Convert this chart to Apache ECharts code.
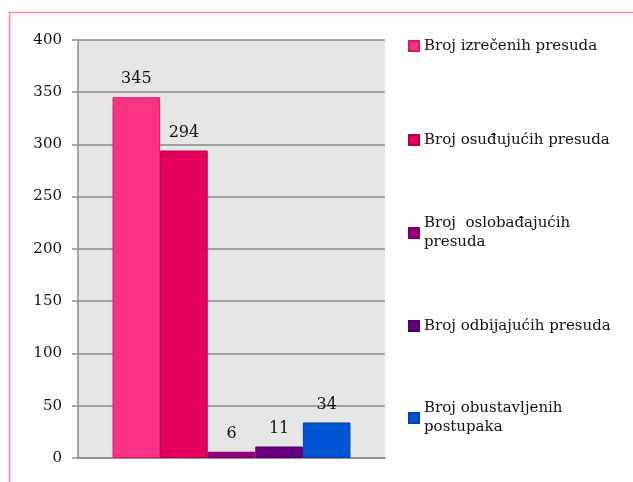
<!DOCTYPE html>
<html>
<head>
<meta charset="utf-8">
<script src="https://cdn.jsdelivr.net/npm/echarts@6/dist/echarts.min.js"></script>
<style>
html,body{margin:0;padding:0;background:#fff;}
#chart{width:633px;height:482px;}
</style>
</head>
<body>
<div id="chart"></div>
<script>
var seriesNames = ['Broj izrečenih presuda', 'Broj osuđujućih presuda', 'Broj  oslobađajućih presuda', 'Broj odbijajućih presuda', 'Broj obustavljenih postupaka'];
var legendLabels = ['Broj izrečenih presuda', 'Broj osuđujućih presuda', 'Broj  oslobađajućih\npresuda', 'Broj odbijajućih presuda', 'Broj obustavljenih\npostupaka'];
var seriesValues = [345, 294, 6, 11, 34];
var seriesColors = ['#FF3385', '#E6005C', '#990080', '#660080', '#0055D4'];
var borderColors = ['#D91A6A', '#B80048', '#7A0066', '#520066', '#0044AA'];
var yTicks = [0, 50, 100, 150, 200, 250, 300, 350, 400];
var legendIconCenters = [46, 140, 233, 326, 418];

var FONT = 'DejaVu Serif';
var chart = echarts.init(document.getElementById('chart'));

var series = seriesNames.map(function (n, i) {
  return {
    name: n,
    type: 'bar',
    data: [seriesValues[i]],
    barGap: '0%',
    barCategoryGap: '22.5%',
    itemStyle: { color: seriesColors[i], borderColor: borderColors[i], borderWidth: 1 },
    label: {
      show: true, position: 'top', distance: 10,
      fontFamily: FONT, fontSize: 16, color: '#111'
    }
  };
});

var legends = seriesNames.map(function (n, i) {
  var multi = legendLabels[i].indexOf('\n') >= 0;
  return {
    data: [n],
    left: 408,
    top: multi ? legendIconCenters[i] - 28.5 : legendIconCenters[i] - 9.5,
    padding: 0,
    itemWidth: 10,
    itemHeight: 10,
    icon: 'rect',
    selectedMode: false,
    formatter: function () { return legendLabels[i]; },
    textStyle: {
      fontFamily: FONT, fontSize: 15, color: '#111', lineHeight: 19,
      padding: multi ? [19, 0, 0, 0] : 0
    }
  };
});

chart.setOption({
  animation: false,
  backgroundColor: '#fff',
  graphic: [{
    type: 'rect', left: 7, top: 10,
    shape: { width: 700, height: 600 },
    style: { fill: 'none', stroke: '#FF80B5', lineWidth: 1.5 },
    silent: true
  }],
  legend: legends,
  grid: {
    left: 78, right: 248, top: 39.7, bottom: 24,
    show: true, backgroundColor: '#E6E6E6', borderWidth: 0
  },
  xAxis: {
    type: 'category', data: [''],
    axisLine: { show: true, lineStyle: { color: '#8a8a8a', width: 1.5 } },
    axisTick: { show: false }, axisLabel: { show: false }
  },
  yAxis: {
    type: 'value', min: yTicks[0], max: yTicks[yTicks.length - 1], interval: 50,
    axisLine: { show: true, lineStyle: { color: '#8a8a8a', width: 1.5 } },
    axisTick: { show: true, length: 6, lineStyle: { color: '#8a8a8a', width: 1.5 } },
    splitLine: { show: true, lineStyle: { color: '#8a8a8a', width: 1.5 } },
    axisLabel: { fontFamily: FONT, fontSize: 15, color: '#111', margin: 16 }
  },
  series: series
});
</script>
</body>
</html>
